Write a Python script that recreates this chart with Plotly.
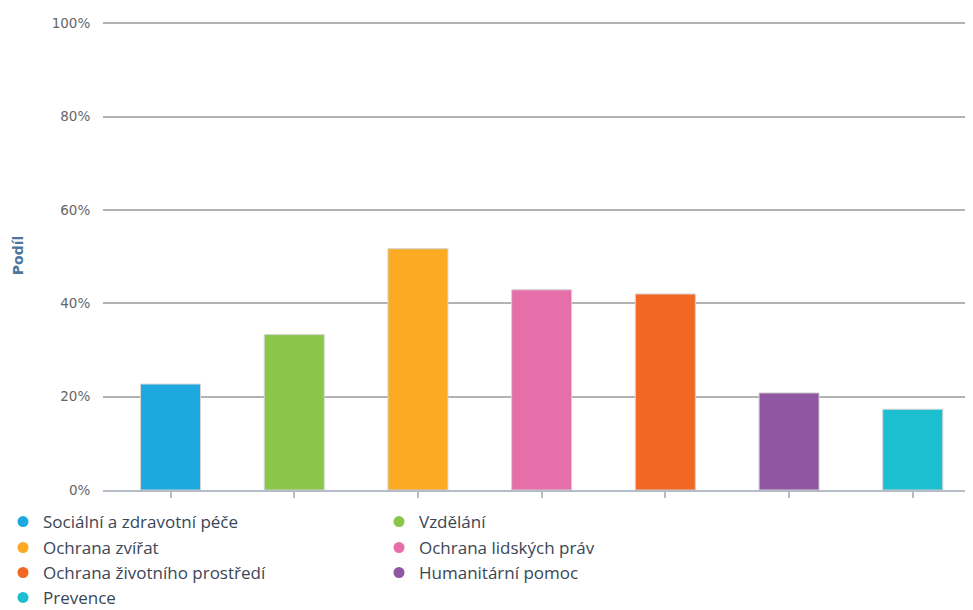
import plotly.graph_objects as go

categories = ["Sociální a zdravotní péče", "Vzdělání", "Ochrana zvířat", "Ochrana lidských práv",
              "Ochrana životního prostředí", "Humanitární pomoc", "Prevence"]
values = [22.7, 33.3, 51.7, 42.9, 42.0, 20.8, 17.3]
colors = ["#1da9e0", "#89c64a", "#fcaa24", "#e66fa9", "#f16723", "#8f56a1", "#1bbfcf"]
tick_vals = [0, 20, 40, 60, 80, 100]
tick_text = ["0%", "20%", "40%", "60%", "80%", "100%"]

# legend rows (two columns)
legend_rows = [[0, 1], [2, 3], [4, 5], [6]]
legend_ids = ["legend", "legend2", "legend3", "legend4"]

fig = go.Figure()
row_of = {}
for r, items in enumerate(legend_rows):
    for i in items:
        row_of[i] = r

for i, (cat, val, col) in enumerate(zip(categories, values, colors)):
    fig.add_trace(go.Bar(
        x=[cat], y=[val], width=0.485,
        marker=dict(color=col, line=dict(color="#d3d3d3", width=1)),
        showlegend=False, hoverinfo="skip"))

for i, (cat, col) in enumerate(zip(categories, colors)):
    fig.add_trace(go.Scatter(
        x=[None], y=[None], mode="markers", name=cat,
        marker=dict(symbol="circle", size=11, color=col),
        legend=legend_ids[row_of[i]], showlegend=True))

# page body has an 8px margin, so the figure is sized/placed accordingly
W, H = 965, 602
left = 95
bottom = 120
ymax = 100.5
unit = 4.67
top = 15 - unit * (ymax - 100)
plot_h = H - top - bottom
plot_bottom = H - bottom
plot_w = W - left
legend_font = dict(family="Open Sans", size=17, color="#3a4656")
row_px = [514, 540, 565, 590]
legend_x = -100 / plot_w

layout_legends = {}
for lid, py in zip(legend_ids, row_px):
    layout_legends[lid] = dict(
        orientation="h", x=legend_x, xanchor="left",
        y=-(py - plot_bottom) / plot_h, yanchor="middle",
        entrywidth=331, entrywidthmode="pixels",
        font=legend_font, bgcolor="rgba(0,0,0,0)", borderwidth=0,
        itemclick=False, itemdoubleclick=False)

fig.update_layout(
    width=W, height=H,
    margin=dict(l=left, r=0, t=top, b=bottom, autoexpand=False),
    plot_bgcolor="white", paper_bgcolor="white",
    barmode="overlay",
    font=dict(family="DejaVu Sans", color="#666666"),
    **layout_legends,
    xaxis=dict(
        type="category", range=[-0.546, 6.487],
        showticklabels=False, showgrid=False,
        showline=True, linecolor="#b4bcc8", linewidth=2,
        ticks="outside", ticklen=6, tickwidth=2, tickcolor="#b4bcc8",
        fixedrange=True),
    yaxis=dict(
        range=[0, ymax], tickvals=tick_vals, ticktext=tick_text,
        showgrid=True, gridcolor="#b2b2b2", gridwidth=2,
        zeroline=False, showline=False,
        ticks="outside", ticklen=9, tickcolor="rgba(0,0,0,0)",
        tickfont=dict(family="DejaVu Sans", size=13.5, color="#666666"),
        title=dict(text="<b>Podíl</b>", standoff=24,
                   font=dict(family="DejaVu Sans", size=14, color="#4d759e")),
        automargin=False, fixedrange=True),
)

fig.write_html("out.html")
